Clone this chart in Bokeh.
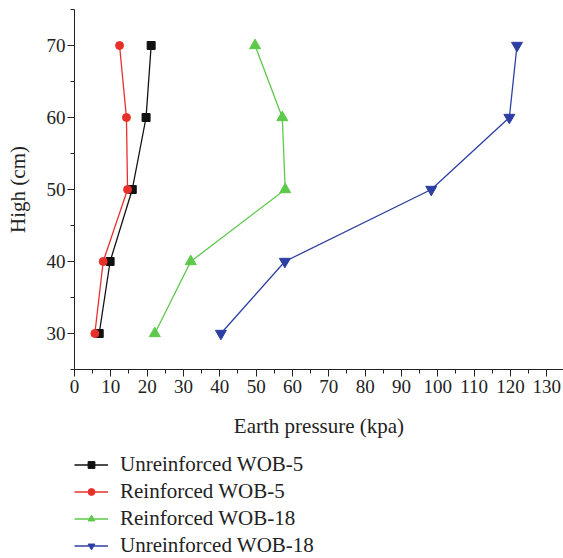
from bokeh.plotting import figure
from bokeh.layouts import column
from bokeh.models import Legend, LegendItem, Range1d, FixedTicker
from bokeh.embed import file_html
from bokeh.resources import INLINE

heights = [30, 40, 50, 60, 70]
unreinforced_wob5 = [6.8, 9.8, 15.9, 19.7, 21.1]
reinforced_wob5 = [5.6, 7.9, 14.6, 14.3, 12.4]
reinforced_wob18 = [22.1, 32.0, 58.0, 57.2, 49.7]
unreinforced_wob18 = [40.3, 57.9, 98.2, 119.7, 121.8]

x_ticks = list(range(0, 131, 10))
y_ticks = [30, 40, 50, 60, 70]

FONT = "Liberation Serif"

p = figure(width=563, height=446, output_backend="svg", toolbar_location=None,
           x_range=Range1d(0, 134.6), y_range=Range1d(25, 75),
           min_border_left=72, min_border_right=0, min_border_top=9, min_border_bottom=77)
p.outline_line_color = None
p.grid.visible = False
p.background_fill_color = "white"

for ax in (p.xaxis[0], p.yaxis[0]):
    ax.axis_line_color = "#222222"
    ax.major_tick_line_color = "#222222"
    ax.minor_tick_line_color = "#222222"
    ax.major_tick_out = 7
    ax.major_tick_in = 0
    ax.minor_tick_out = 4
    ax.minor_tick_in = 0
    ax.major_label_text_font = FONT
    ax.major_label_text_font_size = "19px"
    ax.major_label_text_color = "#222222"
    ax.axis_label_text_font = FONT
    ax.axis_label_text_font_size = "21px"
    ax.axis_label_text_font_style = "normal"
    ax.axis_label_text_color = "#222222"

p.xaxis.ticker = FixedTicker(ticks=x_ticks, minor_ticks=[v + 5 for v in range(0, 135, 10)])
p.yaxis.ticker = FixedTicker(ticks=y_ticks, minor_ticks=[25, 35, 45, 55, 65, 75])
p.xaxis.axis_label = "Earth pressure (kpa)"
p.yaxis.axis_label = "High (cm)"
p.xaxis.major_label_standoff = 3
p.xaxis.axis_label_standoff = 18
p.yaxis.major_label_standoff = 2
p.yaxis.axis_label_standoff = 14

series = [
    ("Unreinforced WOB-5", unreinforced_wob5, "#111111", "square", 8),
    ("Reinforced WOB-5", reinforced_wob5, "#e8302a", "circle", 8),
    ("Reinforced WOB-18", reinforced_wob18, "#5cc94a", "triangle", 11),
    ("Unreinforced WOB-18", unreinforced_wob18, "#2d3fa3", "inverted_triangle", 11),
]

# separate strip below the chart that holds only the legend
# (its ranges keep the series themselves out of view; only the legend shows)
leg_fig = figure(width=563, height=112, output_backend="svg", toolbar_location=None,
                 x_range=Range1d(-2, -1), y_range=Range1d(-2, -1),
                 min_border_left=74, min_border_right=0, min_border_top=6, min_border_bottom=0)
leg_fig.axis.visible = False
leg_fig.grid.visible = False
leg_fig.outline_line_color = None

items = []
for name, xs, color, marker, size in series:
    p.line(xs, heights, line_color=color, line_width=1.3)
    p.scatter(xs, heights, marker=marker, size=size, fill_color=color, line_color=color)
    lg = leg_fig.line(xs, heights, line_color=color, line_width=1.3)
    sg = leg_fig.scatter(xs, heights, marker=marker, size=size, fill_color=color, line_color=color)
    items.append(LegendItem(label=name, renderers=[lg, sg]))

legend = Legend(items=items, location="top_left", orientation="vertical",
                label_text_font=FONT, label_text_font_size="21px", label_text_color="#222222",
                glyph_width=34, glyph_height=17, label_height=25, label_standoff=12,
                spacing=2, padding=0, margin=0, border_line_color=None,
                background_fill_alpha=0)
leg_fig.add_layout(legend, "center")

layout = column(p, leg_fig, spacing=0)
open("out.html", "w").write(file_html(layout, INLINE))
